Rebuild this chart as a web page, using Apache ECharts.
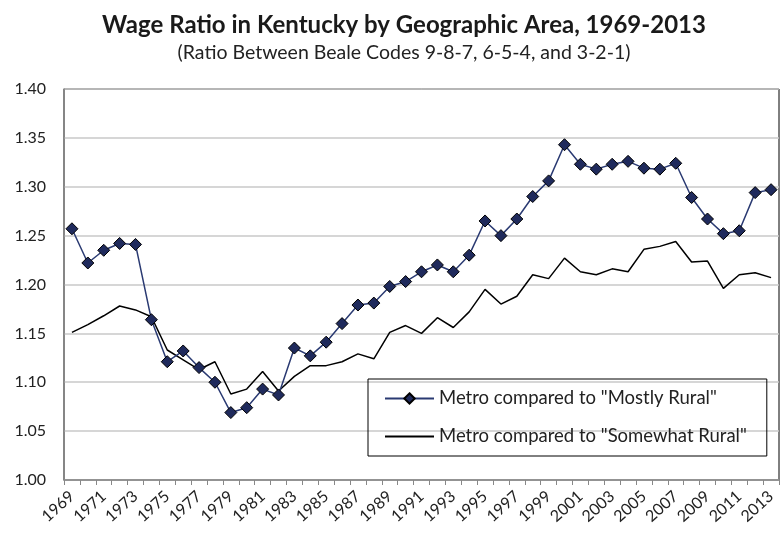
<!DOCTYPE html>
<html>
<head>
<meta charset="utf-8">
<script src="https://cdn.jsdelivr.net/npm/echarts@6/dist/echarts.min.js"></script>
<style>html,body{margin:0;padding:0;background:#fff}#c{width:783px;height:535px}</style>
</head>
<body>
<div id="c"></div>
<script>
var years = [];
for (var y = 1969; y <= 2013; y++) years.push(String(y));

var mostlyRural = [
  1.257, 1.222, 1.235, 1.242, 1.241, 1.164, 1.121, 1.132, 1.115, 1.100,
  1.069, 1.074, 1.093, 1.087, 1.135, 1.127, 1.141, 1.160, 1.179, 1.181,
  1.198, 1.203, 1.213, 1.220, 1.213, 1.230, 1.265, 1.250, 1.267, 1.290,
  1.306, 1.343, 1.323, 1.318, 1.323, 1.326, 1.319, 1.318, 1.324, 1.289,
  1.267, 1.252, 1.255, 1.294, 1.297
];

var somewhatRural = [
  1.151, 1.159, 1.168, 1.178, 1.174, 1.167, 1.133, 1.123, 1.113, 1.121,
  1.088, 1.093, 1.111, 1.091, 1.106, 1.117, 1.117, 1.121, 1.129, 1.124,
  1.151, 1.158, 1.150, 1.166, 1.156, 1.172, 1.195, 1.180, 1.188, 1.210,
  1.206, 1.227, 1.213, 1.210, 1.216, 1.213, 1.236, 1.239, 1.244, 1.223,
  1.224, 1.196, 1.210, 1.212, 1.207
];

var seriesNames = ['Metro compared to "Mostly Rural"', 'Metro compared to "Somewhat Rural"'];

var chart = echarts.init(document.getElementById('c'), null, {renderer: 'canvas'});
var FONT = 'Lato, "Open Sans", sans-serif';
chart.setOption({
  animation: false,
  backgroundColor: '#fff',
  textStyle: {fontFamily: FONT},
  title: [{
    text: 'Wage Ratio in Kentucky by Geographic Area, 1969-2013',
    left: 399, top: 8, textAlign: 'center',
    textStyle: {fontFamily: FONT, fontSize: 24, fontWeight: 'bold', color: '#1a1a1a'}
  }, {
    text: '(Ratio Between Beale Codes 9-8-7, 6-5-4, and 3-2-1)',
    left: 399, top: 38, textAlign: 'center',
    textStyle: {fontFamily: FONT, fontSize: 19.5, fontWeight: 'normal', color: '#222'}
  }],
  grid: {left: 64, right: 4, top: 89, bottom: 55, show: true, borderColor: '#000', borderWidth: 1},
  legend: {
    orient: 'vertical', left: 368, top: 379,
    borderColor: '#000', borderWidth: 1,
    padding: [10, 20, 10, 16], itemGap: 19,
    itemWidth: 49, itemHeight: 13,
    textStyle: {fontFamily: FONT, fontSize: 18.5, color: '#222'},
    data: [
      {name: seriesNames[0]},
      {name: seriesNames[1], itemStyle: {opacity: 0, borderWidth: 0}}
    ]
  },
  xAxis: {
    type: 'category', data: years, boundaryGap: true,
    axisLine: {lineStyle: {color: '#888', width: 1.5}},
    axisTick: {show: true, interval: 0, length: 5, lineStyle: {color: '#888'}},
    axisLabel: {interval: 1, rotate: 42, fontSize: 16, color: '#222', fontFamily: FONT, margin: 14},
    splitLine: {show: false}
  },
  yAxis: {
    type: 'value', min: 1.0, max: 1.4, interval: 0.05,
    axisLine: {show: true, lineStyle: {color: '#888', width: 1.5}},
    axisTick: {show: false},
    axisLabel: {fontSize: 16, color: '#222', fontFamily: FONT, margin: 18,
      formatter: function (v) { return v.toFixed(2); }},
    splitLine: {show: true, lineStyle: {color: '#C8C8C8', width: 1.5}}
  },
  series: [{
    name: seriesNames[0], type: 'line', data: mostlyRural,
    symbol: 'diamond', symbolSize: 12, showAllSymbol: true,
    lineStyle: {color: '#2A3A72', width: 1.5},
    itemStyle: {color: '#1F2A5C', borderColor: '#000', borderWidth: 1},
    z: 3
  }, {
    name: seriesNames[1], type: 'line', data: somewhatRural,
    symbol: 'none',
    lineStyle: {color: '#000', width: 1.5},
    itemStyle: {color: '#000'},
    z: 2
  }]
});
</script>
</body>
</html>
